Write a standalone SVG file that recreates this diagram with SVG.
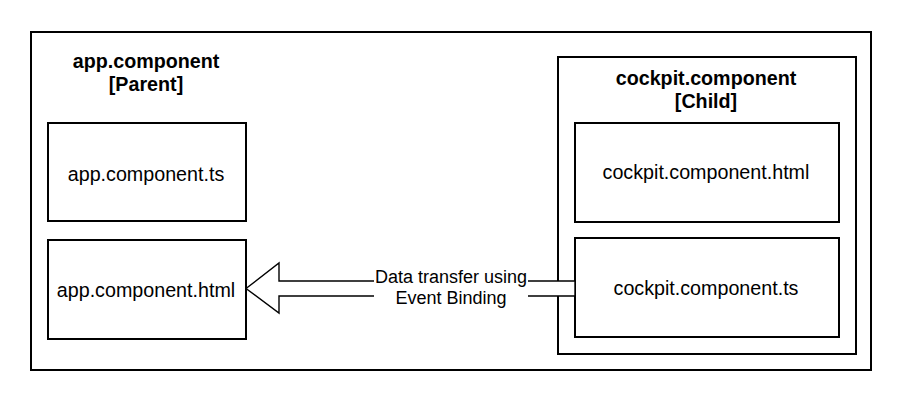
<svg xmlns="http://www.w3.org/2000/svg" width="907" height="406" viewBox="0 0 907 406">
<style>
.box{fill:#fff;stroke:#000;stroke-width:2}
.t{font-family:"Liberation Sans",Arial,sans-serif;font-size:19.7px;fill:#000;text-anchor:middle}
.b{font-weight:bold}
.lbl{font-family:"Liberation Sans",Arial,sans-serif;font-size:18px;fill:#000;text-anchor:middle}
</style>
<rect width="907" height="406" fill="#fff"/>
<g id="parent">
<rect class="box" x="31" y="32" width="840" height="338"/>
<text class="t b" x="146" y="68">app.component</text>
<text class="t b" x="146" y="91">[Parent]</text>
</g>
<g id="app-ts">
<rect class="box" x="48" y="123" width="198" height="98"/>
<text class="t" x="146" y="181">app.component.ts</text>
</g>
<g id="app-html">
<rect class="box" x="48" y="240" width="198" height="99"/>
<text class="t" x="146" y="297">app.component.html</text>
</g>
<g id="child">
<rect class="box" x="558" y="57" width="298" height="297"/>
<text class="t b" x="706" y="85">cockpit.component</text>
<text class="t b" x="706" y="108">[Child]</text>
</g>
<g id="cockpit-html">
<rect class="box" x="575" y="123" width="264" height="99"/>
<text class="t" x="706" y="179">cockpit.component.html</text>
</g>
<g id="cockpit-ts">
<rect class="box" x="575" y="238" width="264" height="99"/>
<text class="t" x="706" y="295">cockpit.component.ts</text>
</g>
<g id="connectors">
<polygon points="246,288.5 279,263 279,281 575,281 575,296 279,296 279,313" fill="#fff" stroke="#000" stroke-width="1.4" stroke-linejoin="miter"/>
<rect x="374" y="266" width="154" height="41" fill="#fff"/>
<text class="lbl" x="451" y="282.5">Data transfer using</text>
<text class="lbl" x="451" y="304">Event Binding</text>
</g>
</svg>
